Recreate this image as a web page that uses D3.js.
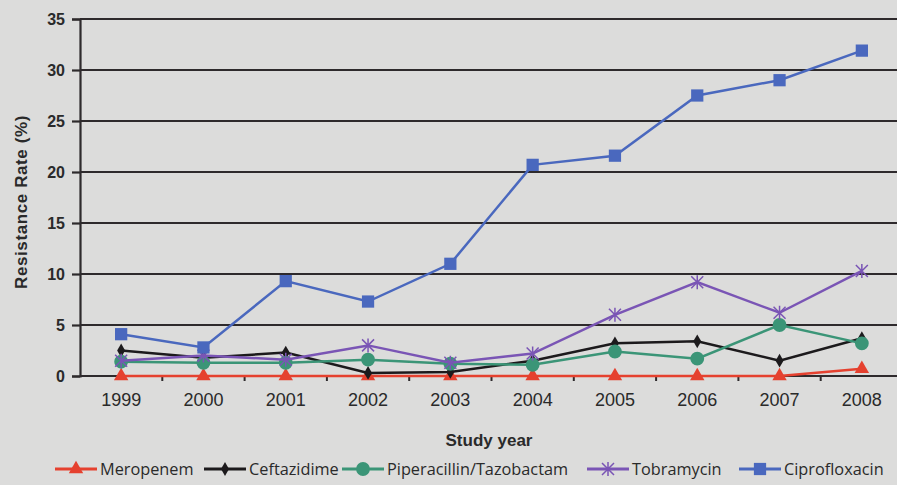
<!DOCTYPE html>
<html lang="en">
<head>
<meta charset="utf-8"/>
<script src="https://d3js.org/d3.v7.min.js"></script>
<style>
  body { margin: 0; background: #dcdcdb; }
  svg { display: block; font-family: "Open Sans", Lato, sans-serif; }
</style>
</head>
<body>
<div id="chart"></div>
<script>
    var years = ["1999", "2000", "2001", "2002", "2003", "2004", "2005", "2006", "2007", "2008"];
    var meropenem = [0, 0, 0, 0, 0, 0, 0, 0, 0, 0.7];
    var ceftazidime = [2.5, 1.8, 2.3, 0.3, 0.4, 1.5, 3.2, 3.4, 1.5, 3.7];
    var piperacillin = [1.4, 1.3, 1.3, 1.6, 1.2, 1.1, 2.4, 1.7, 5.0, 3.2];
    var tobramycin = [1.5, 2.0, 1.6, 3.0, 1.3, 2.2, 6.0, 9.2, 6.2, 10.3];
    var ciprofloxacin = [4.1, 2.8, 9.3, 7.3, 11.0, 20.7, 21.6, 27.5, 29.0, 31.9];
    var yTicks = [0, 5, 10, 15, 20, 25, 30, 35];

    var series = [
        {name: "Meropenem", values: meropenem, color: "#e5412f", marker: "triangle"},
        {name: "Ceftazidime", values: ceftazidime, color: "#1c1a1c", marker: "diamond"},
        {name: "Piperacillin/Tazobactam", values: piperacillin, color: "#3b9577", marker: "circle"},
        {name: "Tobramycin", values: tobramycin, color: "#7a55b5", marker: "star"},
        {name: "Ciprofloxacin", values: ciprofloxacin, color: "#4a68be", marker: "square"}
    ];

    var W = 897, H = 485;
    var margin = {top: 19, right: -6, bottom: 109, left: 80};
    var width = W - margin.left - margin.right;
    var height = H - margin.top - margin.bottom;

    var svg = d3.select("#chart")
        .append("svg")
            .attr("width", W)
            .attr("height", H);

    var g = svg.append("g")
        .attr("transform", "translate(" + margin.left + "," + margin.top + ")");

    var x = d3.scaleBand()
        .domain(years)
        .range([0, width]);

    var y = d3.scaleLinear()
        .domain([0, 35])
        .range([height, 0]);

    // horizontal gridlines
    g.selectAll(".grid")
        .data(yTicks.filter(function(d) { return d > 0; }))
        .enter()
        .append("line")
            .attr("x1", 0)
            .attr("x2", W)
            .attr("y1", function(d) { return y(d); })
            .attr("y2", function(d) { return y(d); })
            .style("stroke", "#2e2a2c")
            .style("stroke-width", 2.2);

    // y axis
    var yAxis = g.append("g")
        .call(d3.axisLeft(y).tickValues(yTicks).tickSize(8).tickPadding(7));
    yAxis.select(".domain").style("stroke", "#2e2a2c").style("stroke-width", 2.2);
    yAxis.selectAll(".tick line").style("stroke", "#2e2a2c").style("stroke-width", 2.2);
    yAxis.selectAll("text")
        .style("font-size", "16px")
        .style("font-weight", "600")
        .style("fill", "#2a2a2a");

    // x axis
    var xAxis = g.append("g")
        .attr("transform", "translate(0," + height + ")")
        .call(d3.axisBottom(x).tickSize(0).tickPadding(17));
    xAxis.select(".domain").remove();
    g.append("line")
        .attr("x1", 0).attr("x2", W)
        .attr("y1", height).attr("y2", height)
        .style("stroke", "#2e2a2c")
        .style("stroke-width", 2.2);
    xAxis.selectAll("text")
        .style("font-size", "18px")
        .style("fill", "#2a2a2a");
    // small tick marks between categories
    g.selectAll(".xtick")
        .data(years.slice(1))
        .enter()
        .append("line")
            .attr("x1", function(d) { return x(d); })
            .attr("x2", function(d) { return x(d); })
            .attr("y1", height)
            .attr("y2", height + 5)
            .style("stroke", "#2e2a2c")
            .style("stroke-width", 2);

    var line = d3.line()
        .x(function(d, i) { return x(years[i]) + x.bandwidth() / 2; })
        .y(function(d) { return y(d); });

    function markerPath(type) {
        if (type === "triangle") return d3.symbol().type(d3.symbolTriangle).size(90)();
        if (type === "diamond") return d3.symbol().type(d3.symbolDiamond).size(55)();
        if (type === "circle") return d3.symbol().type(d3.symbolCircle).size(150)();
        if (type === "square") return d3.symbol().type(d3.symbolSquare).size(150)();
        return "M-6,-6L6,6M-6,6L6,-6M0,-7L0,7";
    }

    series.forEach(function(s) {
        g.append("path")
            .datum(s.values)
            .attr("d", line)
            .style("fill", "none")
            .style("stroke", s.color)
            .style("stroke-width", 2.5);

        g.selectAll(null)
            .data(s.values)
            .enter()
            .append("path")
                .attr("transform", function(d, i) {
                    return "translate(" + (x(years[i]) + x.bandwidth() / 2) + "," + y(d) + ")";
                })
                .attr("d", markerPath(s.marker))
                .style("fill", s.marker === "star" ? "none" : s.color)
                .style("stroke", s.color)
                .style("stroke-width", s.marker === "star" ? 1.5 : 0);
    });

    // axis titles
    svg.append("text")
        .attr("transform", "translate(27," + 202 + ") rotate(-90)")
        .attr("text-anchor", "middle")
        .style("font-family", "'Liberation Sans', Arial, sans-serif")
        .style("font-size", "17px")
        .style("font-weight", "bold")
        .style("letter-spacing", "0.6px")
        .style("fill", "#2a2a2a")
        .text("Resistance Rate (%)");

    svg.append("text")
        .attr("x", 489)
        .attr("y", 446)
        .attr("text-anchor", "middle")
        .style("font-family", "'Liberation Sans', Arial, sans-serif")
        .style("font-size", "17px")
        .style("font-weight", "bold")
        .style("fill", "#2a2a2a")
        .text("Study year");

    // legend
    var legendX = [55, 204, 342, 587, 739];
    var legend = svg.selectAll(".legend")
        .data(series)
        .enter()
        .append("g")
            .attr("transform", function(d, i) { return "translate(" + legendX[i] + ",469)"; });
    legend.append("line")
        .attr("x1", 0).attr("x2", 42)
        .style("stroke", function(d) { return d.color; })
        .style("stroke-width", 3);
    legend.append("path")
        .attr("transform", "translate(21,0)")
        .attr("d", function(d) { return markerPath(d.marker); })
        .style("fill", function(d) { return d.marker === "star" ? "none" : d.color; })
        .style("stroke", function(d) { return d.color; })
        .style("stroke-width", function(d) { return d.marker === "star" ? 1.5 : 0; });
    legend.append("text")
        .attr("x", 45)
        .attr("y", 6)
        .style("font-size", "16.3px")
        .style("fill", "#2a2a2a")
        .text(function(d) { return d.name; });
</script>
</body>
</html>
